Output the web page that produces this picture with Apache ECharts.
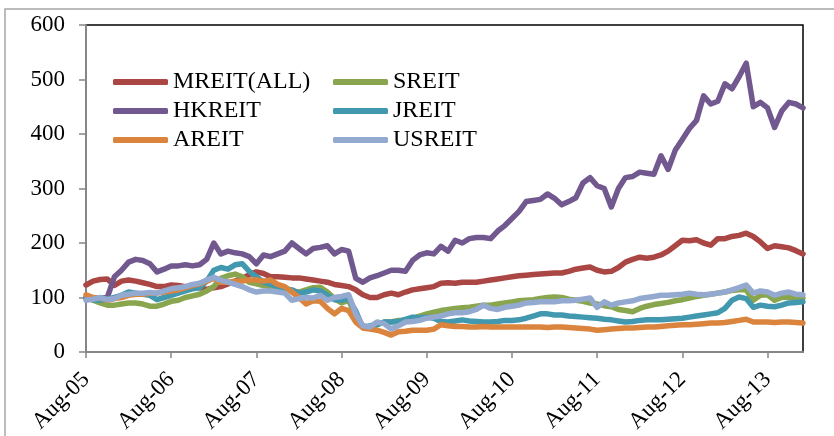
<!DOCTYPE html>
<html>
<head>
<meta charset="utf-8">
<script src="https://cdn.jsdelivr.net/npm/echarts@6/dist/echarts.min.js"></script>
<style>
  html, body { margin: 0; padding: 0; background: #fff; }
  #chart { width: 834px; height: 436px; }
</style>
</head>
<body>
<div id="chart"></div>
<script>
// monthly index values, Aug-05 = month 0
const tickLabels = ["Aug-05", "Aug-06", "Aug-07", "Aug-08", "Aug-09", "Aug-10", "Aug-11", "Aug-12", "Aug-13"]

const mreit = [123, 130, 133, 134, 122, 130, 132, 130, 127, 124, 120, 120, 123, 122, 120, 119, 118, 115, 118, 120,
  125, 130, 135, 142, 147, 144, 138, 138, 137, 136, 136, 134, 132, 130, 128, 124, 122, 120, 114, 105,
  100, 100, 105, 108, 105, 110, 114, 116, 118, 120, 126, 127, 126, 128, 128, 128, 130, 132, 134, 136,
  138, 140, 141, 142, 143, 144, 145, 145, 148, 152, 154, 156, 150, 147, 148, 155, 165, 170, 174, 172,
  174, 178, 185, 195, 205, 204, 206, 200, 196, 208, 208, 212, 214, 218, 212, 202, 190, 195, 193, 191,
  186, 180]

const sreit = [99, 95, 90, 86, 86, 88, 90, 90, 88, 84, 84, 88, 93, 95, 100, 103, 106, 112, 120, 135,
  140, 143, 138, 128, 125, 122, 120, 118, 117, 112, 110, 114, 118, 119, 110, 98, 90, 95, 65, 48,
  45, 50, 55, 55, 58, 58, 62, 66, 70, 73, 76, 78, 80, 81, 82, 84, 86, 86, 88, 90,
  92, 94, 95, 96, 98, 100, 101, 100, 97, 95, 93, 90, 88, 85, 83, 78, 76, 74, 80, 84,
  87, 89, 91, 94, 96, 99, 102, 104, 106, 108, 110, 113, 114, 114, 95, 104, 105, 95, 100, 101,
  100, 99]

const hkreit = [100, 98, 99, 100, 138, 150, 165, 170, 168, 162, 147, 152, 158, 158, 160, 158, 160, 170, 200, 180,
  185, 182, 180, 175, 162, 178, 175, 180, 185, 200, 190, 180, 190, 192, 195, 180, 188, 185, 135, 128,
  136, 140, 145, 150, 150, 148, 168, 178, 182, 180, 194, 185, 205, 200, 208, 210, 210, 208, 222, 232,
  245, 258, 276, 278, 280, 290, 282, 270, 276, 283, 310, 320, 305, 300, 266, 300, 320, 322, 330, 328,
  326, 360, 335, 370, 390, 410, 425, 470, 455, 460, 492, 483, 505, 530, 450, 458, 448, 412, 442, 458,
  455, 448]

const jreit = [98, 96, 95, 97, 100, 104, 110, 108, 106, 104, 96, 100, 104, 108, 112, 116, 118, 130, 150, 155,
  152, 160, 162, 148, 138, 128, 124, 120, 116, 114, 108, 110, 114, 112, 104, 96, 95, 98, 75, 45,
  48, 50, 55, 55, 56, 60, 64, 63, 64, 62, 56, 55, 57, 59, 57, 56, 55, 55, 56, 58,
  58, 59, 62, 66, 70, 70, 68, 68, 66, 65, 64, 63, 62, 60, 59, 57, 55, 56, 58, 59,
  59, 59, 60, 61, 62, 64, 66, 68, 70, 72, 80, 95, 101, 98, 82, 86, 84, 83, 86, 90,
  91, 92]

const areit = [105, 100, 99, 95, 98, 100, 104, 106, 106, 108, 108, 110, 112, 114, 118, 122, 125, 130, 135, 128,
  128, 130, 130, 132, 132, 130, 132, 124, 120, 110, 100, 88, 94, 93, 80, 70, 80, 76, 55, 44,
  42, 40, 36, 31, 37, 38, 40, 40, 40, 42, 50, 48, 47, 47, 46, 46, 47, 46, 46, 46,
  46, 46, 46, 46, 46, 45, 46, 46, 45, 44, 43, 42, 40, 41, 42, 43, 44, 44, 45, 46,
  46, 47, 48, 49, 50, 50, 51, 52, 53, 53, 54, 56, 58, 60, 55, 55, 55, 54, 55, 55,
  54, 53]

const usreit = [95, 97, 100, 96, 98, 104, 106, 108, 108, 109, 108, 112, 116, 118, 120, 124, 126, 132, 137, 132,
  128, 124, 120, 114, 110, 112, 112, 110, 108, 95, 98, 100, 99, 104, 95, 100, 102, 105, 70, 48,
  46, 55, 52, 42, 48, 55, 56, 58, 62, 64, 66, 70, 72, 72, 74, 78, 86, 80, 78, 82,
  84, 86, 90, 91, 92, 92, 92, 94, 94, 95, 97, 99, 82, 92, 86, 90, 92, 94, 98, 100,
  102, 104, 104, 105, 106, 108, 106, 105, 106, 108, 110, 114, 118, 123, 108, 112, 110, 104, 108, 110,
  106, 105]

const seriesDefs = [
  { name: "MREIT(ALL)", values: mreit, color: "#AA4643" },
  { name: "SREIT", values: sreit, color: "#89A54E" },
  { name: "HKREIT", values: hkreit, color: "#71588F" },
  { name: "JREIT", values: jreit, color: "#4198AF" },
  { name: "AREIT", values: areit, color: "#DB843D" },
  { name: "USREIT", values: usreit, color: "#93A9CF" },
]

const font = "'Liberation Serif', 'Times New Roman', serif"
const tickMonths = tickLabels.map((_, i) => i * 12)

const chart = echarts.init(document.getElementById("chart"))

const legendBase = {
  orient: "vertical",
  top: 70,
  padding: 0,
  itemWidth: 55,
  itemHeight: 6,
  itemGap: 5,
  icon: "roundRect",
  textStyle: { fontFamily: font, fontSize: 24, color: "#000", lineHeight: 24 },
}

chart.setOption({
  animation: false,
  backgroundColor: "#fff",
  textStyle: { fontFamily: font },
  graphic: [
    {
      type: "rect",
      shape: { x: 5, y: 9, width: 850, height: 450 },
      style: { fill: "none", stroke: "#a6a6a6", lineWidth: 1.5 },
      silent: true,
    },
  ],
  grid: {
    left: 86,
    top: 25,
    right: 31,
    bottom: 84,
    show: true,
    borderColor: "#000",
    borderWidth: 1.5,
  },
  legend: [
    Object.assign({}, legendBase, { left: 113, data: ["MREIT(ALL)", "HKREIT", "AREIT"] }),
    Object.assign({}, legendBase, { left: 333, data: ["SREIT", "JREIT", "USREIT"] }),
  ],
  xAxis: {
    type: "value",
    min: 0,
    max: 101,
    interval: 12,
    splitLine: { show: false },
    axisLine: { lineStyle: { color: "#868686", width: 2 } },
    axisTick: { length: 6, lineStyle: { color: "#868686", width: 1.5 }, customValues: tickMonths },
    axisLabel: {
      rotate: 45,
      margin: 24,
      fontFamily: font,
      fontSize: 23,
      color: "#000",
      customValues: tickMonths,
      formatter: (v) => tickLabels[Math.round(v / 12)] || "",
    },
  },
  yAxis: {
    type: "value",
    min: 0,
    max: 600,
    interval: 100,
    splitLine: { show: false },
    axisLine: { show: true, lineStyle: { color: "#868686", width: 2 } },
    axisTick: { show: true, length: 7, lineStyle: { color: "#868686", width: 1.5 } },
    axisLabel: { margin: 21, fontFamily: font, fontSize: 23, color: "#000" },
  },
  series: seriesDefs.map((s) => ({
    name: s.name,
    type: "line",
    data: s.values.map((v, i) => [i, v]),
    showSymbol: false,
    smooth: false,
    color: s.color,
    lineStyle: { width: 5.5, color: s.color, cap: "round", join: "round" },
  })),
})
</script>
</body>
</html>
